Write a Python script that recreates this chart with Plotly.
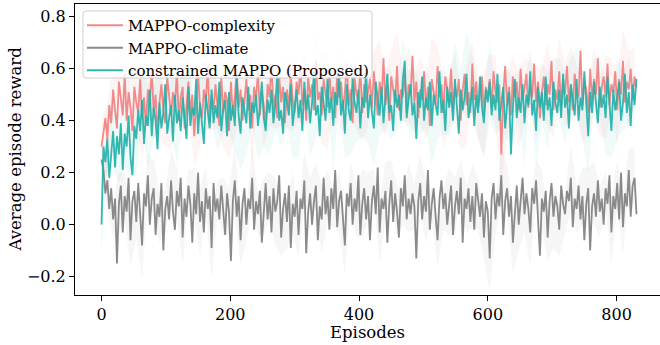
import plotly.graph_objects as go

# Episodes sampled every 3 steps (0..831)
episodes = list(range(0, 832, 3))

complexity = [
    0.30, 0.35, 0.41, 0.33, 0.46, 0.39, 0.52, 0.44, 0.37, 0.55, 0.48, 0.42, 0.58, 0.40, 0.51, 0.45, 0.36, 0.53, 0.47, 0.43,
    0.56, 0.41, 0.49, 0.38, 0.52, 0.46, 0.60, 0.43, 0.50, 0.35, 0.47, 0.54, 0.44, 0.39, 0.57, 0.48, 0.42, 0.51, 0.45, 0.59,
    0.40, 0.49, 0.53, 0.37, 0.46, 0.55, 0.43, 0.50, 0.34, 0.48, 0.58, 0.45, 0.41, 0.52, 0.47, 0.61, 0.39, 0.50, 0.44, 0.54,
    0.46, 0.38, 0.57, 0.43, 0.51, 0.48, 0.36, 0.55, 0.42, 0.49, 0.60, 0.45, 0.52, 0.40, 0.47, 0.56, 0.44, 0.50, 0.37, 0.53,
    0.48, 0.59, 0.42, 0.51, 0.46, 0.38, 0.54, 0.49, 0.62, 0.44, 0.50, 0.41, 0.57, 0.47, 0.53, 0.39, 0.52, 0.45, 0.58, 0.48,
    0.43, 0.55, 0.50, 0.61, 0.46, 0.52, 0.40, 0.57, 0.49, 0.54, 0.44, 0.63, 0.48, 0.51, 0.42, 0.56, 0.50, 0.45, 0.59, 0.47,
    0.53, 0.41, 0.58, 0.49, 0.55, 0.44, 0.51, 0.62, 0.46, 0.52, 0.39, 0.57, 0.50, 0.48, 0.60, 0.43, 0.54, 0.47, 0.51, 0.56,
    0.45, 0.59, 0.50, 0.42, 0.55, 0.48, 0.64, 0.46, 0.53, 0.40, 0.57, 0.51, 0.47, 0.61, 0.44, 0.52, 0.49, 0.58, 0.43, 0.54,
    0.50, 0.65, 0.47, 0.55, 0.41, 0.52, 0.48, 0.59, 0.45, 0.53, 0.38, 0.56, 0.50, 0.46, 0.61, 0.49, 0.54, 0.43, 0.57, 0.51,
    0.47, 0.60, 0.44, 0.53, 0.49, 0.56, 0.40, 0.52, 0.58, 0.46, 0.51, 0.43, 0.62, 0.48, 0.55, 0.45, 0.50, 0.57, 0.42, 0.53,
    0.49, 0.56, 0.45, 0.59, 0.51, 0.47, 0.54, 0.27, 0.50, 0.61, 0.46, 0.53, 0.42, 0.57, 0.49, 0.55, 0.44, 0.60, 0.48, 0.52,
    0.58, 0.45, 0.53, 0.49, 0.62, 0.47, 0.55, 0.41, 0.51, 0.57, 0.46, 0.54, 0.50, 0.63, 0.44, 0.52, 0.48, 0.59, 0.45, 0.56,
    0.50, 0.61, 0.47, 0.54, 0.44, 0.58, 0.51, 0.49, 0.67, 0.46, 0.55, 0.52, 0.43, 0.60, 0.48, 0.56, 0.50, 0.64, 0.45, 0.53,
    0.57, 0.49, 0.62, 0.46, 0.54, 0.51, 0.59, 0.44, 0.56, 0.50, 0.63, 0.47, 0.55, 0.52, 0.60, 0.48, 0.57, 0.53,
]

climate = [
    0.25, 0.21, 0.12, 0.17, 0.06, 0.14, 0.02, 0.10, -0.15, 0.08, 0.15, -0.03, 0.11, 0.05, 0.18, -0.06, 0.09, 0.13, 0.01, 0.16,
    0.04, -0.08, 0.12, 0.07, 0.19, 0.00, 0.10, 0.14, -0.04, 0.08, 0.03, 0.16, -0.10, 0.06, 0.11, 0.02, 0.17, 0.05, -0.02, 0.13,
    0.07, 0.18, -0.05, 0.10, 0.03, 0.15, 0.08, -0.07, 0.12, 0.04, 0.20, 0.01, 0.09, -0.03, 0.14, 0.06, 0.11, -0.09, 0.16, 0.05,
    0.10, 0.02, 0.15, 0.07, -0.04, 0.12, 0.05, -0.14, 0.09, 0.17, 0.03, 0.11, -0.06, 0.08, 0.14, 0.00, 0.10, 0.06, 0.18, -0.02,
    0.09, 0.04, 0.13, -0.07, 0.07, 0.16, 0.02, 0.11, -0.03, 0.14, 0.05, 0.09, 0.19, -0.05, 0.06, 0.12, 0.01, 0.15, -0.09, 0.08,
    0.03, 0.13, -0.04, 0.10, 0.06, 0.17, -0.11, 0.05, 0.12, 0.00, 0.09, 0.15, -0.06, 0.07, 0.02, 0.18, 0.04, 0.11, -0.02, 0.14,
    0.06, 0.21, -0.01, 0.09, 0.13, 0.03, -0.08, 0.12, 0.07, 0.16, 0.00, 0.10, 0.05, 0.19, -0.04, 0.08, 0.14, 0.02, 0.11, -0.06,
    0.09, 0.15, 0.04, 0.22, -0.03, 0.10, 0.06, 0.13, -0.07, 0.08, 0.17, 0.01, 0.12, 0.05, -0.05, 0.14, 0.07, 0.19, 0.02, 0.10,
    0.04, 0.12, 0.07, -0.13, 0.09, 0.16, 0.02, 0.11, 0.05, 0.21, -0.02, 0.08, 0.14, 0.03, -0.06, 0.10, 0.17, 0.06, 0.12, 0.00,
    0.09, 0.15, -0.04, 0.07, 0.13, 0.04, 0.18, -0.07, 0.10, 0.06, 0.14, 0.01, 0.11, -0.02, 0.16, 0.08, 0.03, 0.12, -0.05, 0.09,
    0.05, -0.13, 0.10, 0.16, 0.02, 0.12, 0.07, 0.19, -0.04, 0.09, 0.14, 0.03, 0.11, -0.07, 0.06, 0.15, 0.00, 0.10, 0.18, 0.04,
    0.12, 0.06, -0.03, 0.14, 0.08, 0.17, 0.02, -0.12, 0.10, 0.05, 0.13, -0.05, 0.09, 0.16, 0.03, 0.11, 0.07, -0.02, 0.15, 0.08,
    0.04, 0.13, 0.09, 0.18, -0.01, 0.10, 0.06, 0.15, 0.02, 0.11, -0.06, 0.08, 0.14, -0.10, 0.07, 0.12, 0.03, 0.17, 0.05, 0.10,
    0.00, 0.14, 0.08, 0.19, -0.03, 0.11, 0.06, 0.16, 0.02, 0.20, -0.01, 0.12, 0.07, 0.21, 0.03, 0.15, 0.18, 0.04,
]

constrained = [
    0.00, 0.30, 0.24, 0.33, 0.18, 0.29, 0.36, 0.22, 0.34, 0.27, 0.39, 0.21, 0.35, 0.30, 0.42, 0.26, 0.19, 0.38, 0.33, 0.44,
    0.36, 0.48, 0.31, 0.42, 0.38, 0.52, 0.34, 0.45, 0.40, 0.29, 0.47, 0.37, 0.43, 0.54, 0.35, 0.41, 0.46, 0.32, 0.50, 0.39,
    0.44, 0.36, 0.49, 0.41, 0.33, 0.53, 0.38, 0.45, 0.42, 0.56, 0.35, 0.47, 0.40, 0.31, 0.50, 0.43, 0.37, 0.52, 0.39, 0.46,
    0.41, 0.55, 0.36, 0.44, 0.48, 0.34, 0.51, 0.40, 0.46, 0.38, 0.57, 0.42, 0.35, 0.49, 0.44, 0.39, 0.53, 0.37, 0.47, 0.43,
    0.50, 0.38, 0.45, 0.55, 0.41, 0.36, 0.48, 0.43, 0.52, 0.39, 0.46, 0.58, 0.40, 0.44, 0.35, 0.51, 0.47, 0.42, 0.54, 0.38,
    0.45, 0.52, 0.41, 0.48, 0.36, 0.55, 0.44, 0.50, 0.39, 0.47, 0.59, 0.42, 0.46, 0.34, 0.53, 0.45, 0.40, 0.56, 0.43, 0.49,
    0.38, 0.51, 0.46, 0.58, 0.42, 0.48, 0.35, 0.54, 0.44, 0.40, 0.57, 0.47, 0.43, 0.52, 0.37, 0.49, 0.45, 0.60, 0.41, 0.50,
    0.44, 0.37, 0.55, 0.47, 0.42, 0.53, 0.39, 0.49, 0.58, 0.43, 0.46, 0.36, 0.52, 0.45, 0.50, 0.40, 0.56, 0.63, 0.41, 0.48,
    0.54, 0.42, 0.47, 0.33, 0.51, 0.45, 0.57, 0.40, 0.49, 0.44, 0.55, 0.38, 0.50, 0.46, 0.42, 0.59, 0.43, 0.48, 0.36, 0.53,
    0.45, 0.51, 0.40, 0.56, 0.47, 0.35, 0.52, 0.44, 0.49, 0.58, 0.41, 0.46, 0.53, 0.38, 0.50, 0.43, 0.57, 0.45, 0.39, 0.52,
    0.47, 0.55, 0.42, 0.50, 0.44, 0.58, 0.40, 0.48, 0.53, 0.37, 0.46, 0.51, 0.27, 0.45, 0.56, 0.41, 0.49, 0.43, 0.54, 0.39,
    0.50, 0.46, 0.59, 0.42, 0.48, 0.36, 0.53, 0.45, 0.51, 0.40, 0.57, 0.44, 0.49, 0.38, 0.55, 0.47, 0.43, 0.52, 0.41, 0.58,
    0.45, 0.50, 0.37, 0.54, 0.47, 0.42, 0.56, 0.40, 0.49, 0.44, 0.59, 0.46, 0.34, 0.51, 0.43, 0.55, 0.48, 0.39, 0.53, 0.45,
    0.50, 0.41, 0.57, 0.46, 0.36, 0.52, 0.44, 0.49, 0.55, 0.40, 0.47, 0.58, 0.43, 0.51, 0.38, 0.54, 0.46, 0.56,
]

# Half-width of the faint spread bands, sampled every 9 episodes
complexity_spread = [
    0.10, 0.14, 0.09, 0.15, 0.11, 0.13, 0.08, 0.16, 0.12, 0.10,
    0.14, 0.09, 0.13, 0.15, 0.11, 0.08, 0.12, 0.16, 0.10, 0.14,
    0.09, 0.13, 0.11, 0.15, 0.12, 0.08, 0.14, 0.10, 0.16, 0.11,
    0.13, 0.09, 0.15, 0.12, 0.10, 0.14, 0.08, 0.13, 0.11, 0.16,
    0.09, 0.12, 0.15, 0.10, 0.14, 0.11, 0.13, 0.08, 0.16, 0.12,
    0.10, 0.14, 0.09, 0.15, 0.11, 0.13, 0.12, 0.16, 0.08, 0.14,
    0.10, 0.13, 0.11, 0.15, 0.09, 0.12, 0.16, 0.10, 0.14, 0.11,
    0.13, 0.08, 0.15, 0.12, 0.10, 0.14, 0.09, 0.16, 0.11, 0.13,
    0.12, 0.15, 0.10, 0.14, 0.09, 0.13, 0.11, 0.16, 0.10, 0.14,
    0.12, 0.15, 0.11,
]
climate_spread = [
    0.08, 0.11, 0.07, 0.12, 0.09, 0.10, 0.06, 0.13, 0.08, 0.11,
    0.10, 0.07, 0.12, 0.09, 0.11, 0.06, 0.10, 0.13, 0.08, 0.12,
    0.07, 0.11, 0.09, 0.13, 0.10, 0.06, 0.12, 0.08, 0.11, 0.09,
    0.13, 0.07, 0.10, 0.12, 0.08, 0.11, 0.06, 0.09, 0.13, 0.10,
    0.07, 0.12, 0.11, 0.08, 0.10, 0.13, 0.09, 0.06, 0.12, 0.11,
    0.08, 0.10, 0.07, 0.13, 0.09, 0.11, 0.12, 0.06, 0.10, 0.08,
    0.13, 0.11, 0.07, 0.09, 0.12, 0.10, 0.08, 0.13, 0.06, 0.11,
    0.09, 0.12, 0.10, 0.07, 0.13, 0.08, 0.11, 0.09, 0.12, 0.10,
    0.07, 0.13, 0.09, 0.11, 0.08, 0.12, 0.10, 0.06, 0.13, 0.09,
    0.11, 0.08, 0.12,
]
constrained_spread = [
    0.12, 0.09, 0.15, 0.11, 0.13, 0.08, 0.14, 0.10, 0.16, 0.12,
    0.09, 0.13, 0.11, 0.15, 0.10, 0.14, 0.08, 0.12, 0.16, 0.11,
    0.13, 0.09, 0.15, 0.10, 0.14, 0.12, 0.08, 0.13, 0.11, 0.16,
    0.10, 0.14, 0.09, 0.12, 0.15, 0.11, 0.13, 0.08, 0.14, 0.10,
    0.16, 0.12, 0.09, 0.13, 0.11, 0.15, 0.10, 0.14, 0.08, 0.12,
    0.13, 0.09, 0.16, 0.11, 0.14, 0.10, 0.12, 0.15, 0.09, 0.13,
    0.11, 0.14, 0.08, 0.16, 0.12, 0.10, 0.13, 0.15, 0.09, 0.11,
    0.14, 0.12, 0.10, 0.16, 0.08, 0.13, 0.11, 0.15, 0.09, 0.12,
    0.14, 0.10, 0.13, 0.11, 0.15, 0.09, 0.12, 0.14, 0.10, 0.16,
    0.11, 0.13, 0.09,
]

for arr in (complexity, climate, constrained):
    assert len(arr) == len(episodes), len(arr)

series = [
    ("MAPPO-complexity", complexity, complexity_spread,
     "rgba(240,128,128,0.92)", "rgba(240,128,128,0.09)"),
    ("MAPPO-climate", climate, climate_spread,
     "rgba(128,128,128,0.92)", "rgba(140,140,140,0.08)"),
    ("constrained MAPPO (Proposed)", constrained, constrained_spread,
     "rgba(32,178,170,0.92)", "rgba(32,178,170,0.07)"),
]

FONT = "DejaVu Serif"
W, H = 660, 345
ML, MR, MT, MB = 75, 0, 4, 50
PW, PH = W - ML - MR, H - MT - MB


def px_x(p):
    return (p - ML) / PW


def px_y(p):
    return 1 - (p - MT) / PH


fig = go.Figure()

# faint spread bands first
for name, vals, spread, lc, bc in series:
    bx = episodes[::3]
    centre = vals[::3]
    n = min(len(bx), len(centre), len(spread))
    bx, centre, sp = bx[:n], centre[:n], spread[:n]
    upper = [c + s for c, s in zip(centre, sp)]
    lower = [c - s for c, s in zip(centre, sp)]
    fig.add_trace(go.Scatter(
        x=bx + bx[::-1], y=upper + lower[::-1], fill="toself",
        fillcolor=bc, line=dict(width=0), mode="lines",
        hoverinfo="skip", showlegend=False))

for name, vals, spread, lc, bc in series:
    fig.add_trace(go.Scatter(
        x=episodes, y=vals, mode="lines", name=name,
        line=dict(color=lc, width=1.8)))

# legend frame (rounded box like the reference)
x0, x1, y0, y1 = px_x(83), px_x(372), px_y(78), px_y(11)
rx, ry = 3 / PW, 3 / PH
path = (f"M{x0+rx},{y0} L{x1-rx},{y0} Q{x1},{y0} {x1},{y0+ry} "
        f"L{x1},{y1-ry} Q{x1},{y1} {x1-rx},{y1} L{x0+rx},{y1} "
        f"Q{x0},{y1} {x0},{y1-ry} L{x0},{y0+ry} Q{x0},{y0} {x0+rx},{y0} Z")

fig.update_layout(
    width=W, height=H,
    margin=dict(l=ML, r=MR, t=MT, b=MB, autoexpand=False),
    paper_bgcolor="white", plot_bgcolor="white",
    font=dict(family=FONT, size=16, color="black"),
    showlegend=True,
    legend=dict(x=px_x(82), y=px_y(9), xanchor="left", yanchor="top",
                bgcolor="rgba(0,0,0,0)", borderwidth=0,
                font=dict(family=FONT, size=15), tracegroupgap=0,
                itemwidth=36),
    shapes=[dict(type="path", xref="paper", yref="paper", path=path,
                 fillcolor="rgba(255,255,255,0.8)",
                 line=dict(color="#d0d0d0", width=1), layer="above")],
    annotations=[
        dict(text="Episodes", xref="paper", yref="paper", x=0.5,
             y=px_y(332), xanchor="center", yanchor="middle",
             showarrow=False, font=dict(family=FONT, size=16.5)),
        dict(text="Average episode reward", xref="paper", yref="paper",
             x=px_x(15), y=0.5, xanchor="center", yanchor="middle",
             textangle=-90, showarrow=False, font=dict(family=FONT, size=16.5)),
    ],
)
fig.update_xaxes(
    range=[-41.2, 867.5], tickvals=[0, 200, 400, 600, 800],
    showline=True, linecolor="black", linewidth=1, mirror=True,
    ticks="outside", ticklen=5, tickwidth=1, tickcolor="black",
    showgrid=False, zeroline=False, automargin=False,
    tickfont=dict(family=FONT, size=16),
)
fig.update_yaxes(
    range=[-0.271, 0.849], tickvals=[-0.2, 0.0, 0.2, 0.4, 0.6, 0.8],
    tickformat=".1f",
    showline=True, linecolor="black", linewidth=1, mirror=False,
    ticks="outside", ticklen=5, tickwidth=1, tickcolor="black",
    showgrid=False, zeroline=False, automargin=False,
    tickfont=dict(family=FONT, size=16),
)

fig.write_html("out.html", config={"displayModeBar": False},
               post_script="document.body.style.margin='0';"
                           "document.body.style.padding='0';")
